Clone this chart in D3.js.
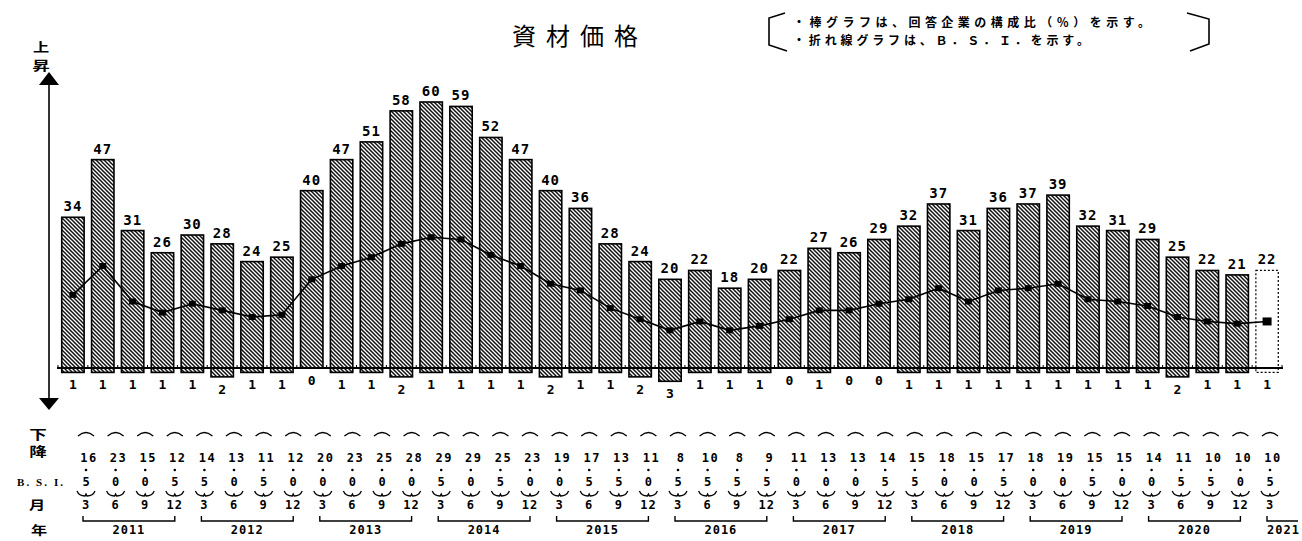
<!DOCTYPE html>
<html><head><meta charset="utf-8">
<script src="https://cdn.jsdelivr.net/npm/d3@7"></script>
<style>
html,body{margin:0;padding:0;background:#fff;}
svg{display:block;}
</style></head>
<body>
<svg id="chart" width="1302" height="541"></svg>
<script>
// ---- data ----
const years = ["2011","2012","2013","2014","2015","2016","2017","2018","2019","2020","2021"];
const months = ["3","6","9","12"];
// bar: share of firms answering "rise" (%)
const barUp = [34,47,31,26, 30,28,24,25, 40,47,51,58, 60,59,52,47, 40,36,28,24,
               20,22,18,20, 22,27,26,29, 32,37,31,36, 37,39,32,31, 29,25,22,21, 22];
// bar: share of firms answering "fall" (%)
const barDown = [1,1,1,1, 1,2,1,1, 0,1,1,2, 1,1,1,1, 2,1,1,2,
                 3,1,1,1, 0,1,0,0, 1,1,1,1, 1,1,1,1, 1,2,1,1, 1];
// line: B.S.I.
const bsi = [16.5,23.0,15.0,12.5, 14.5,13.0,11.5,12.0, 20.0,23.0,25.0,28.0, 29.5,29.0,25.5,23.0,
             19.0,17.5,13.5,11.0, 8.5,10.5,8.5,9.5, 11.0,13.0,13.0,14.5, 15.5,18.0,15.0,17.5,
             18.0,19.0,15.5,15.0, 14.0,11.5,10.5,10.0, 10.5];
const title = "資材価格";
const note1 = "・棒グラフは、回答企業の構成比（％）を示す。";
const note2 = "・折れ線グラフは、Ｂ．Ｓ．Ｉ．を示す。";

// ---- setup ----
const svg = d3.select("#chart");
const n = barUp.length;
const idx = d3.range(n);
const x = d3.scaleBand().domain(idx).range([58, 1282]).paddingInner(0.25).paddingOuter(0.125);
const y = d3.scaleLinear().domain([0, 60]).range([368, 102]);
const col = d3.scalePoint().domain(idx).range([89, 1273]);
const numFont = "'DejaVu Sans Mono', monospace";
const jpFont = "'Noto Sans CJK JP', sans-serif";

const defs = svg.append("defs");
const pat = defs.append("pattern").attr("id","hatch").attr("patternUnits","userSpaceOnUse")
  .attr("width",4).attr("height",4);
pat.append("rect").attr("width",4).attr("height",4).attr("fill","#fff");
pat.append("path").attr("d","M-1,-1 L5,5 M-1,3 L1,5 M3,-1 L5,1")
  .attr("stroke","#111").attr("stroke-width",1.5);

// ---- title & note ----
svg.append("text").attr("x",512).attr("y",34).attr("dominant-baseline","central")
  .attr("font-family",jpFont).attr("font-size",24).attr("letter-spacing",10).text(title);

const noteG = svg.append("g");
noteG.append("path").attr("d","M785,13 L769,18 L769,45 L787,51")
  .attr("fill","none").attr("stroke","#000").attr("stroke-width",1.6);
noteG.append("path").attr("d","M1187,13 L1209,19 L1209,44 L1190,51")
  .attr("fill","none").attr("stroke","#000").attr("stroke-width",1.6);
noteG.append("text").attr("x",793).attr("y",21).attr("dominant-baseline","central")
  .attr("font-family",jpFont).attr("font-weight",700).attr("font-size",12)
  .attr("textLength",357).attr("lengthAdjust","spacing").text(note1);
noteG.append("text").attr("x",793).attr("y",39).attr("dominant-baseline","central")
  .attr("font-family",jpFont).attr("font-weight",700).attr("font-size",12)
  .attr("textLength",296).attr("lengthAdjust","spacing").text(note2);

// ---- left arrow axis ----
svg.append("line").attr("x1",49).attr("x2",49).attr("y1",84).attr("y2",399)
  .attr("stroke","#000").attr("stroke-width",1.6);
svg.append("path").attr("d","M39,85 L59,85 L49,72 Z").attr("fill","#000");
svg.append("path").attr("d","M39,398 L59,398 L49,410 Z").attr("fill","#000");

function wideLabel(cx, cy, txt, size) {
  svg.append("text").attr("transform", `translate(${cx},${cy}) scale(1.35,1)`)
    .attr("text-anchor","middle").attr("dominant-baseline","central")
    .attr("font-family",jpFont).attr("font-weight",700).attr("font-size",size).text(txt);
}
wideLabel(41, 47, "上", 12);
wideLabel(41, 64, "昇", 13);
wideLabel(38, 433, "下", 13);
wideLabel(38, 450, "降", 13);
wideLabel(37, 505, "月", 12);
wideLabel(39, 530, "年", 12);

// ---- bars ----
const bars = svg.append("g");
bars.selectAll("rect").data(idx).join("rect")
  .attr("x", i => x(i))
  .attr("width", x.bandwidth())
  .attr("y", i => y(barUp[i]))
  .attr("height", i => y(-barDown[i]) - y(barUp[i]))
  .attr("fill", i => i === n-1 ? "#fff" : "url(#hatch)")
  .attr("stroke", "#000")
  .attr("stroke-width", i => i === n-1 ? 1.2 : 1.6)
  .attr("stroke-dasharray", i => i === n-1 ? "2,2" : null);

// baseline with small ticks
svg.append("line").attr("x1",57).attr("x2",1283).attr("y1",y(0)).attr("y2",y(0))
  .attr("stroke","#000").attr("stroke-width",1.8);
svg.append("g").selectAll("line").data(d3.range(n+1)).join("line")
  .attr("x1", i => x(0) - x.step()*0.125 + i*x.step())
  .attr("x2", i => x(0) - x.step()*0.125 + i*x.step())
  .attr("y1", y(0)).attr("y2", y(0)-3).attr("stroke","#000").attr("stroke-width",1);

// bar labels
svg.append("g").selectAll("text").data(idx).join("text")
  .attr("x", i => x(i) + x.bandwidth()/2)
  .attr("y", i => y(barUp[i]) - 6)
  .attr("text-anchor","middle").attr("font-family",numFont).attr("font-weight",700)
  .attr("font-size",14).attr("letter-spacing",1).text(i => barUp[i]);
svg.append("g").selectAll("text").data(idx).join("text")
  .attr("x", i => x(i) + x.bandwidth()/2)
  .attr("y", i => y(-barDown[i]) + 17)
  .attr("text-anchor","middle").attr("font-family",numFont).attr("font-weight",700)
  .attr("font-size",13).text(i => barDown[i]);

// ---- BSI line ----
const line = d3.line().x(i => x(i) + x.bandwidth()/2).y(i => y(bsi[i]));
svg.append("path").datum(idx).attr("d", line).attr("fill","none")
  .attr("stroke","#000").attr("stroke-width",1.6);
svg.append("g").selectAll("rect").data(idx).join("rect")
  .attr("x", i => x(i) + x.bandwidth()/2 - (i===n-1?4.5:3.5))
  .attr("y", i => y(bsi[i]) - (i===n-1?4:3))
  .attr("width", i => i===n-1?9:7).attr("height", i => i===n-1?8:6).attr("fill","#000");

// ---- table ----
const tbl = svg.append("g").attr("font-family",numFont).attr("font-weight",700);
tbl.selectAll(".arc").data(idx).join("path").attr("class","arc")
  .attr("d", i => { const c = col(i)-3; return `M${c-8},436 Q${c},429 ${c+8},436`; })
  .attr("fill","none").attr("stroke","#000").attr("stroke-width",1.3);
tbl.selectAll(".int").data(idx).join("text").attr("class","int")
  .attr("x", i => col(i)).attr("y",462).attr("text-anchor","middle")
  .attr("font-size",12).attr("letter-spacing",1.5).text(i => Math.floor(bsi[i]));
tbl.selectAll(".dot").data(idx).join("circle").attr("class","dot")
  .attr("cx", i => col(i)-3).attr("cy",470).attr("r",1.3).attr("fill","#000");
tbl.selectAll(".dec").data(idx).join("text").attr("class","dec")
  .attr("x", i => col(i)-3).attr("y",486).attr("text-anchor","middle")
  .attr("font-size",12).text(i => Math.round((bsi[i] - Math.floor(bsi[i]))*10));
tbl.selectAll(".brace").data(idx).join("path").attr("class","brace")
  .attr("d", i => { const c = col(i)-3; return `M${c-9},491 Q${c-7},496 ${c-1},496 L${c},494 L${c+1},496 Q${c+7},496 ${c+9},491`; })
  .attr("fill","none").attr("stroke","#000").attr("stroke-width",1.3);
tbl.selectAll(".mon").data(idx).join("text").attr("class","mon")
  .attr("x", i => col(i)-3).attr("y",509).attr("text-anchor","middle")
  .attr("font-size",12).attr("letter-spacing",1).text(i => months[i%4]);

// year brackets
const yg = tbl.append("g");
years.forEach((yr, k) => {
  const first = k*4, last = Math.min(k*4+3, n-1);
  const x0 = col(first) - 6;
  const x1 = (first === last) ? 1298 : col(last) - 3;
  const closed = first !== last;
  yg.append("path")
    .attr("d", closed ? `M${x0},516 L${x0},521 L${x1},521 L${x1},516` : `M${x0},516 L${x0},521 L${x1},521`)
    .attr("fill","none").attr("stroke","#000").attr("stroke-width",1.4);
  yg.append("text")
    .attr("x", closed ? (x0+x1)/2 : x0).attr("y",534)
    .attr("text-anchor", closed ? "middle" : "start")
    .attr("font-size",12).attr("letter-spacing",1).text(yr);
});

// row label
svg.append("text").attr("x",17).attr("y",486).attr("font-family","'Liberation Serif', serif")
  .attr("font-weight",700).attr("font-size",11).attr("textLength",46).attr("lengthAdjust","spacing").text("B. S. I.");
</script>
</body></html>
